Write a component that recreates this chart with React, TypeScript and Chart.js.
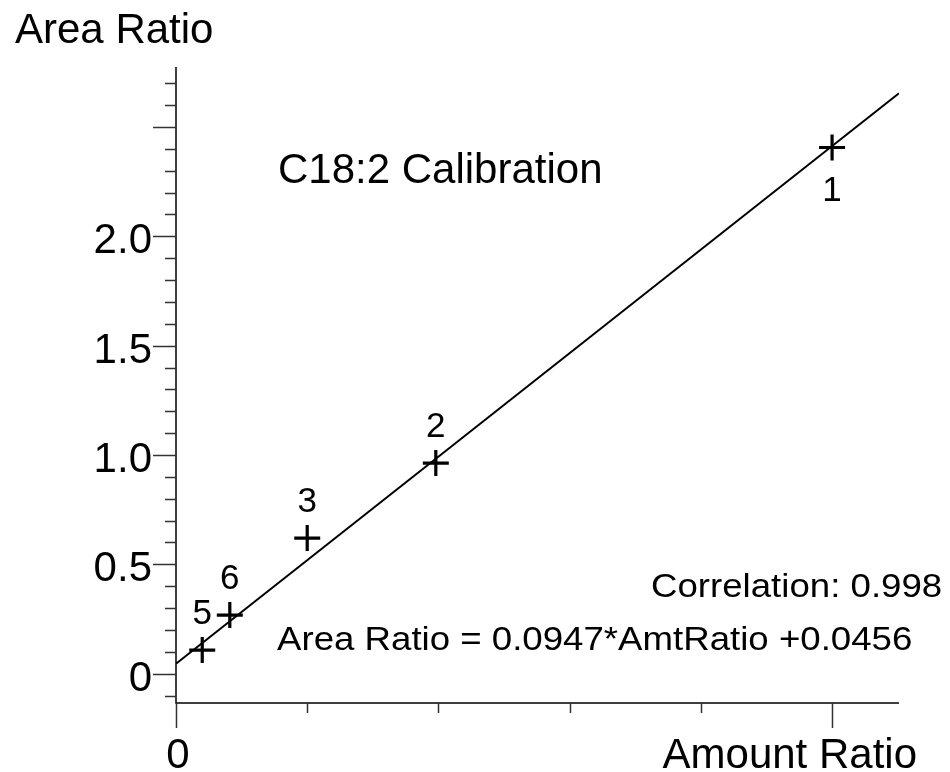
import React, { useEffect, useRef } from "react";
import { Chart, registerables } from "chart.js";

Chart.register(...registerables);

// ---- data ----
const pointNames = ["1", "2", "3", "5", "6"];
const amountRatio = [25, 9.9, 5.0, 1.0, 2.05];
const areaRatio = [2.406, 0.963, 0.62, 0.108, 0.268];
const labelPlacement = ["below", "above", "above", "above", "above"];

const fitX = [0, 27.55];
const fitY = [0.0456, 2.654];

const xMin = 0;
const xMax = 27.55;
const yMin = -0.134;
const yMax = 2.774;

const xTicks = [0, 5, 10, 15, 20, 25];
const xTickLabels = ["0", "", "", "", "", ""];
const xLongTicks = [0, 25];
const yMajorTicks = [0, 0.5, 1.0, 1.5, 2.0, 2.5];
const yTickLabels = ["0", "0.5", "1.0", "1.5", "2.0", ""];
const yMinorTicks = [-0.1, 0.1, 0.2, 0.3, 0.4, 0.6, 0.7, 0.8, 0.9, 1.1, 1.2, 1.3, 1.4, 1.6, 1.7, 1.8, 1.9, 2.1, 2.2, 2.3, 2.4, 2.6, 2.7];

const yAxisTitle = "Area Ratio";
const xAxisTitle = "Amount Ratio";
const chartTitle = "C18:2 Calibration";
const correlationText = "Correlation: 0.998";
const equationText = "Area Ratio = 0.0947*AmtRatio +0.0456";

const FONT = '"Liberation Sans", Arial, Helvetica, sans-serif';

const drawPlugin = {
  id: "calibDecor",
  afterDraw(chart: any) {
    const ctx = chart.ctx as CanvasRenderingContext2D;
    const xs = chart.scales.x;
    const ys = chart.scales.y;
    const area = chart.chartArea;
    const x0 = xs.getPixelForValue(0);
    const yAxisBottom = area.bottom;

    ctx.save();
    // axes
    ctx.strokeStyle = "#000";
    ctx.lineWidth = 1.5;
    ctx.beginPath();
    ctx.moveTo(x0, area.top);
    ctx.lineTo(x0, yAxisBottom);
    ctx.lineTo(area.right, yAxisBottom);
    ctx.stroke();

    // y ticks
    ctx.strokeStyle = "#333";
    ctx.lineWidth = 1.5;
    ctx.beginPath();
    yMajorTicks.forEach((v) => {
      const py = Math.round(ys.getPixelForValue(v)) + 0.5;
      ctx.moveTo(x0 - 23, py);
      ctx.lineTo(x0, py);
    });
    yMinorTicks.forEach((v) => {
      const py = Math.round(ys.getPixelForValue(v)) + 0.5;
      ctx.moveTo(x0 - 11, py);
      ctx.lineTo(x0, py);
    });
    // x ticks
    xTicks.forEach((v) => {
      const px = Math.round(xs.getPixelForValue(v)) + 0.5;
      const len = xLongTicks.includes(v) ? 25 : 10;
      ctx.moveTo(px, yAxisBottom);
      ctx.lineTo(px, yAxisBottom + len);
    });
    ctx.stroke();

    ctx.fillStyle = "#000";
    // y tick labels
    ctx.font = `42px ${FONT}`;
    ctx.textAlign = "right";
    ctx.textBaseline = "alphabetic";
    yMajorTicks.forEach((v, i) => {
      if (!yTickLabels[i]) return;
      ctx.fillText(yTickLabels[i], 152, ys.getPixelForValue(v) + 17);
    });
    // x tick labels
    ctx.textAlign = "center";
    xTicks.forEach((v, i) => {
      if (!xTickLabels[i]) return;
      ctx.fillText(xTickLabels[i], xs.getPixelForValue(v) + 2, 768);
    });
    // axis titles
    ctx.textAlign = "right";
    ctx.fillText(xAxisTitle, 917, 768);
    ctx.textAlign = "left";
    ctx.fillText(yAxisTitle, 15, 43);
    ctx.fillText(chartTitle, 278, 183);

    // annotations (slightly wide text)
    const wideText = (t: string, x: number, y: number) => {
      ctx.save();
      ctx.translate(x, y);
      ctx.scale(1.11, 1);
      ctx.font = `33px ${FONT}`;
      ctx.textAlign = "left";
      ctx.fillText(t, 0, 0);
      ctx.restore();
    };
    wideText(correlationText, 651, 597);
    wideText(equationText, 277, 650);

    // point labels
    ctx.font = `35px ${FONT}`;
    ctx.textAlign = "center";
    pointNames.forEach((n, i) => {
      const px = xs.getPixelForValue(amountRatio[i]);
      const py = ys.getPixelForValue(areaRatio[i]);
      const dy = labelPlacement[i] === "below" ? 54 : -26;
      ctx.fillText(n, px, py + dy);
    });
    ctx.restore();
  },
};

export default function App() {
  const canvasRef = useRef<HTMLCanvasElement | null>(null);

  useEffect(() => {
    if (!canvasRef.current) return;
    const chart = new Chart(canvasRef.current, {
      type: "scatter",
      data: {
        datasets: [
          {
            type: "line",
            label: "fit",
            data: fitX.map((x, i) => ({ x, y: fitY[i] })),
            borderColor: "#000",
            borderWidth: 2,
            pointRadius: 0,
            fill: false,
            tension: 0,
          },
          {
            label: "standards",
            data: amountRatio.map((x, i) => ({ x, y: areaRatio[i] })),
            pointStyle: "cross",
            pointRadius: 13,
            pointBorderWidth: 3.2,
            borderColor: "#000",
            backgroundColor: "#000",
          } as any,
        ],
      },
      options: {
        animation: false,
        responsive: false,
        maintainAspectRatio: false,
        layout: { padding: { left: 176, right: 51, top: 67, bottom: 69 } },
        plugins: { legend: { display: false }, tooltip: { enabled: false } },
        scales: {
          x: { type: "linear", display: false, min: xMin, max: xMax },
          y: { type: "linear", display: false, min: yMin, max: yMax },
        },
      },
      plugins: [drawPlugin],
    });
    return () => chart.destroy();
  }, []);

  return (
    <div style={{ position: "absolute", left: 0, top: 0, width: 950, height: 772, background: "#fff" }}>
      <canvas ref={canvasRef} width={950} height={772} />
    </div>
  );
}
